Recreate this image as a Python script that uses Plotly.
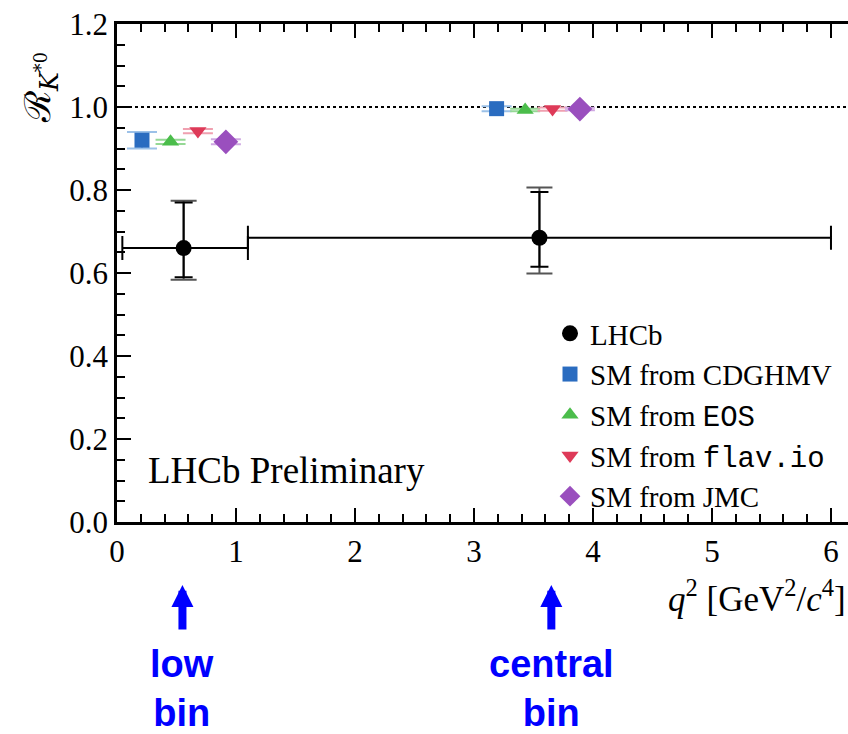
import plotly.graph_objects as go

# ---------------- data ----------------
lhcb_x = [0.56, 3.55]
lhcb_bin_lo = [0.045, 1.1]
lhcb_bin_hi = [1.1, 6.0]
lhcb_y = [0.66, 0.685]
lhcb_stat_up = [0.11, 0.11]
lhcb_stat_dn = [0.07, 0.07]
lhcb_tot_up = [0.114, 0.121]
lhcb_tot_dn = [0.076, 0.086]

cdghmv_x = [0.21, 3.19]
cdghmv_y = [0.920, 0.996]
cdghmv_err = [0.020, 0.006]

eos_x = [0.45, 3.43]
eos_y = [0.916, 0.993]
eos_err = [0.005, 0.003]

flavio_x = [0.68, 3.66]
flavio_y = [0.942, 0.995]
flavio_err = [0.005, 0.004]

jmc_x = [0.915, 3.89]
jmc_y = [0.916, 0.995]
jmc_err = [0.006, 0.003]

arrow_x = [0.55, 3.65]
arrow_labels = ["low<br>bin", "central<br>bin"]

x_ticks = [0, 1, 2, 3, 4, 5, 6]
y_ticks = [0.0, 0.2, 0.4, 0.6, 0.8, 1.0, 1.2]

# ---------------- figure ----------------
W, H = 848, 734
ML, MR, MT, MB = 117, 0, 24, 212
plot_h = H - MT - MB
plot_w = W - ML - MR


def py(p):
    """pixel row -> paper y"""
    return (H - MB - p) / plot_h


def px(p):
    return (p - ML) / plot_w


SERIF = "Liberation Serif, Times New Roman, serif"
MONO = "Liberation Mono, DejaVu Sans Mono, monospace"

fig = go.Figure()

# total error (outer caps) for LHCb
fig.add_trace(go.Scatter(
    x=lhcb_x, y=lhcb_y, mode="markers",
    marker=dict(size=16, color="rgba(0,0,0,0)"),
    error_y=dict(type="data", symmetric=False, array=lhcb_tot_up,
                 arrayminus=lhcb_tot_dn, color="#555555", thickness=2, width=13),
    showlegend=False, hoverinfo="skip"))

# stat error + bin width
fig.add_trace(go.Scatter(
    x=lhcb_x, y=lhcb_y, mode="markers", name="LHCb",
    marker=dict(size=16, color="black", symbol="circle"),
    error_y=dict(type="data", symmetric=False, array=lhcb_stat_up,
                 arrayminus=lhcb_stat_dn, color="black", thickness=2, width=9),
    error_x=dict(type="data", symmetric=False,
                 array=[h - x for h, x in zip(lhcb_bin_hi, lhcb_x)],
                 arrayminus=[x - l for x, l in zip(lhcb_x, lhcb_bin_lo)],
                 color="black", thickness=2, width=12)))

sm = [
    ("SM from CDGHMV", cdghmv_x, cdghmv_y, cdghmv_err, "square", 15, "#2a6cc0", "#9cc1e8"),
    ("SM from <span style=\"font-family:%s\">EOS</span>" % MONO, eos_x, eos_y, eos_err,
     "triangle-up", 15, "#4bbd4b", "#95d895"),
    ("SM from <span style=\"font-family:%s\">flav.io</span>" % MONO, flavio_x, flavio_y, flavio_err,
     "triangle-down", 15, "#de3a58", "#f0a0b0"),
    ("SM from JMC", jmc_x, jmc_y, jmc_err, "diamond", 19, "#9a4fbe", "#cfa8e2"),
]
for name, xs, ys, es, sym, sz, col, lcol in sm:
    fig.add_trace(go.Scatter(
        x=xs, y=ys, mode="markers", name=name,
        marker=dict(size=sz, color=col, symbol=sym, line=dict(width=0)),
        error_y=dict(type="data", array=es, color=lcol, thickness=2, width=15)))

# dotted line at 1
fig.add_shape(type="line", xref="paper", x0=0, x1=1, yref="y", y0=1.0, y1=1.0,
              line=dict(color="black", width=2, dash="dot"), layer="below")

axis_common = dict(
    showline=True, linecolor="black", linewidth=2.5,
    ticks="inside", tickcolor="black", tickwidth=2, ticklen=14,
    showgrid=False, zeroline=False,
    tickfont=dict(family=SERIF, size=31, color="black"),
)
fig.update_xaxes(range=[0, 6.143], tickvals=x_ticks, mirror="allticks",
                 minor=dict(dtick=0.2, tick0=0, ticks="inside", ticklen=8,
                            tickwidth=2, tickcolor="black"),
                 **axis_common)
fig.update_yaxes(range=[0, 1.2], tickvals=y_ticks, tickformat=".1f", mirror=False,
                 minor=dict(dtick=0.05, tick0=0, ticks="inside", ticklen=8,
                            tickwidth=2, tickcolor="black"),
                 **axis_common)

ann = []
# y title
ann.append(dict(xref="paper", yref="paper", x=px(40), y=py(88),
                xanchor="center", yanchor="middle",
                text="ℛ<sub><i>K</i><sup>*0</sup></sub>", textangle=-90,
                showarrow=False, font=dict(family="DejaVu Serif, serif", size=36, color="black")))
# x title
ann.append(dict(xref="paper", yref="paper", x=1.0, y=py(596), xanchor="right",
                yanchor="middle",
                text="<i>q</i><sup>2</sup> [GeV<sup>2</sup>/<i>c</i><sup>4</sup>]",
                showarrow=False, font=dict(family=SERIF, size=35, color="black")))
# LHCb Preliminary
ann.append(dict(xref="paper", yref="paper", x=px(146), y=py(470),
                xanchor="left", yanchor="middle", text="LHCb Preliminary",
                showarrow=False, font=dict(family=SERIF, size=37, color="black")))
# arrows + labels
for ax_, lab in zip(arrow_x, arrow_labels):
    ann.append(dict(xref="x", yref="paper", x=ax_, y=py(585), ax=0, ay=46,
                    text="", showarrow=True, arrowhead=2, arrowsize=0.55,
                    arrowwidth=8, arrowcolor="#0000ff"))
    ann.append(dict(xref="x", yref="paper", x=ax_, y=py(688),
                    yanchor="middle", text="<b>%s</b>" % lab, showarrow=False,
                    font=dict(family="Liberation Sans, Arial, sans-serif",
                              size=38, color="#0000ff")))

fig.update_layout(
    width=W, height=H,
    margin=dict(l=ML, r=MR, t=MT, b=MB),
    paper_bgcolor="white", plot_bgcolor="white",
    annotations=ann,
    legend=dict(x=px(550), y=py(308), xanchor="left", yanchor="top",
                bgcolor="rgba(0,0,0,0)", font=dict(family=SERIF, size=29, color="black"),
                itemsizing="trace", tracegroupgap=0),
    showlegend=True,
)

fig.write_html("out.html")
